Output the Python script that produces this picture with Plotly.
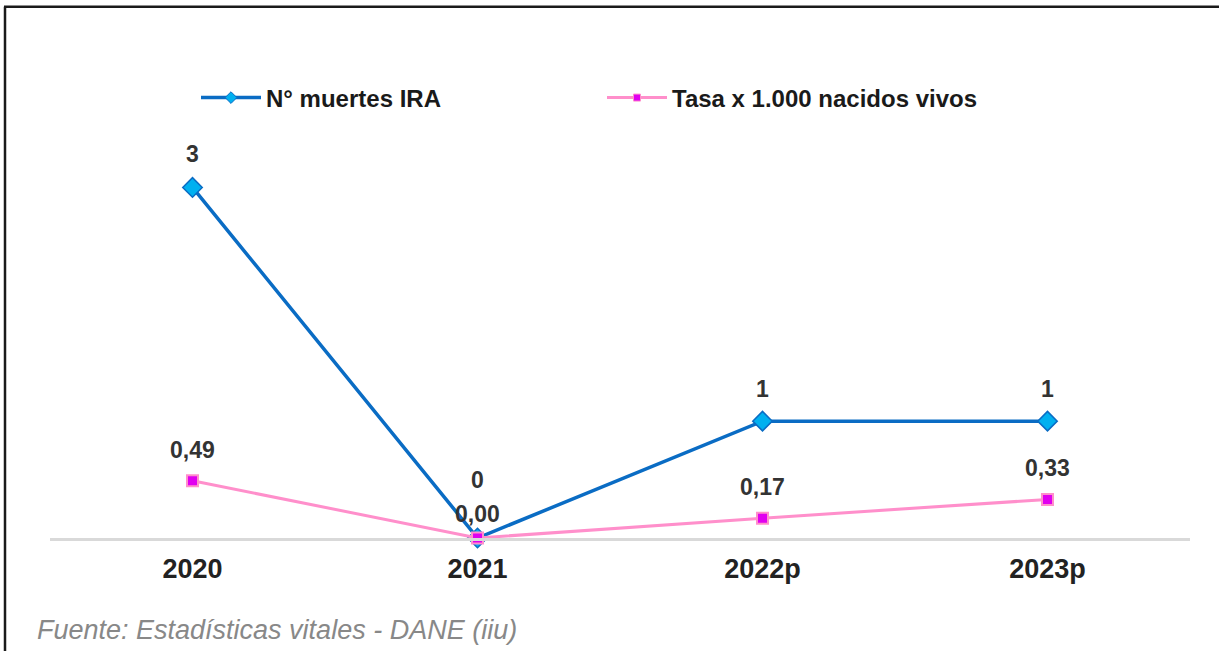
import plotly.graph_objects as go

# Data
years = ["2020", "2021", "2022p", "2023p"]
muertes_ira = [3, 0, 1, 1]
tasa_nacidos = [0.49, 0.00, 0.17, 0.33]
tasa_labels = ["0,49", "0,00", "0,17", "0,33"]
serie_names = ["N° muertes IRA", "Tasa x 1.000 nacidos vivos"]

W, H = 1219, 651
M_L, M_R, M_T, M_B = 50, 29, 128.5, 113
Y_MAX = 3.5

BLUE = "#0A6CC4"
CYAN = "#00B0F0"
PINK = "#FF8FCB"
MAGENTA = "#E000F0"
FONT = "Liberation Sans, Arial, sans-serif"
LABEL_FONT = dict(family=FONT, size=23, color="#333333")

fig = go.Figure()

# Series lines
fig.add_trace(go.Scatter(
    x=years, y=muertes_ira, name=serie_names[0], mode="lines+markers",
    line=dict(color=BLUE, width=3.5), showlegend=False,
    marker=dict(symbol="diamond", size=15, color=CYAN, line=dict(color=BLUE, width=1.5)),
    cliponaxis=False,
))
fig.add_trace(go.Scatter(
    x=years, y=tasa_nacidos, name=serie_names[1], mode="lines+markers",
    line=dict(color=PINK, width=3), showlegend=False,
    marker=dict(symbol="square", size=11, color=MAGENTA, line=dict(color=PINK, width=2)),
    cliponaxis=False,
))

# Legend entries with small marker glyphs
fig.add_trace(go.Scatter(
    x=[None], y=[None], name=f"<b>{serie_names[0]}</b>", mode="lines+markers",
    line=dict(color=BLUE, width=3.5),
    marker=dict(symbol="diamond", size=9, color=CYAN, line=dict(color=BLUE, width=1)),
))
fig.add_trace(go.Scatter(
    x=[None], y=[None], name=f"<b>{serie_names[1]}</b>", mode="lines+markers",
    line=dict(color=PINK, width=3),
    marker=dict(symbol="square", size=7, color=MAGENTA, line=dict(color=PINK, width=1)),
))

# Value labels above each point (x given as category index)
blue_shift = [33, 58, 32, 32]
for i, v in enumerate(muertes_ira):
    fig.add_annotation(x=i, y=v, text=f"<b>{v}</b>", showarrow=False,
                       yshift=blue_shift[i], font=LABEL_FONT)
for i, (v, lab) in enumerate(zip(tasa_nacidos, tasa_labels)):
    fig.add_annotation(x=i, y=v, text=f"<b>{lab}</b>", showarrow=False,
                       yshift=31 if v > 0 else 24, font=LABEL_FONT)

# Pixel -> paper helpers
pw, ph = W - M_L - M_R, H - M_T - M_B
def px_x(p):
    return (p - M_L) / pw
def px_y(p):
    return (H - M_B - p) / ph

# Source note
fig.add_annotation(xref="paper", yref="paper", x=px_x(35), y=px_y(630),
                   xanchor="left", yanchor="middle", showarrow=False,
                   text="<i>Fuente: Estadísticas vitales - DANE (iiu)</i>",
                   font=dict(family=FONT, size=27, color="#888888"))

# Frame lines (top and left)
fig.add_shape(type="line", xref="paper", yref="paper",
              x0=px_x(4), x1=px_x(W + 5), y0=px_y(6), y1=px_y(6),
              line=dict(color="#1A1A1A", width=2.5))
fig.add_shape(type="line", xref="paper", yref="paper",
              x0=px_x(5), x1=px_x(5), y0=px_y(6), y1=px_y(H + 5),
              line=dict(color="#1A1A1A", width=2.5))

fig.update_layout(
    width=W, height=H,
    margin=dict(l=M_L, r=M_R, t=M_T, b=M_B, autoexpand=False),
    paper_bgcolor="white", plot_bgcolor="white",
    showlegend=True,
    legend=dict(orientation="h", xref="container", yref="container",
                x=196 / W, y=1 - 98 / H, xanchor="left", yanchor="middle",
                entrywidth=331, entrywidthmode="pixels", itemwidth=60,
                font=dict(family=FONT, size=24, color="#1A1A1A"),
                bgcolor="rgba(0,0,0,0)"),
    xaxis=dict(type="category", range=[-0.5, 3.5], showgrid=False, zeroline=False,
               showline=True, linecolor="#D9D9D9", linewidth=3,
               ticks="", ticklabelstandoff=5,
               tickfont=dict(family=FONT, size=27, color="#222222"),
               tickvals=years, ticktext=[f"<b>{y}</b>" for y in years]),
    yaxis=dict(range=[0, Y_MAX], visible=False, showgrid=False, zeroline=False),
)

fig.write_html("out.html")
